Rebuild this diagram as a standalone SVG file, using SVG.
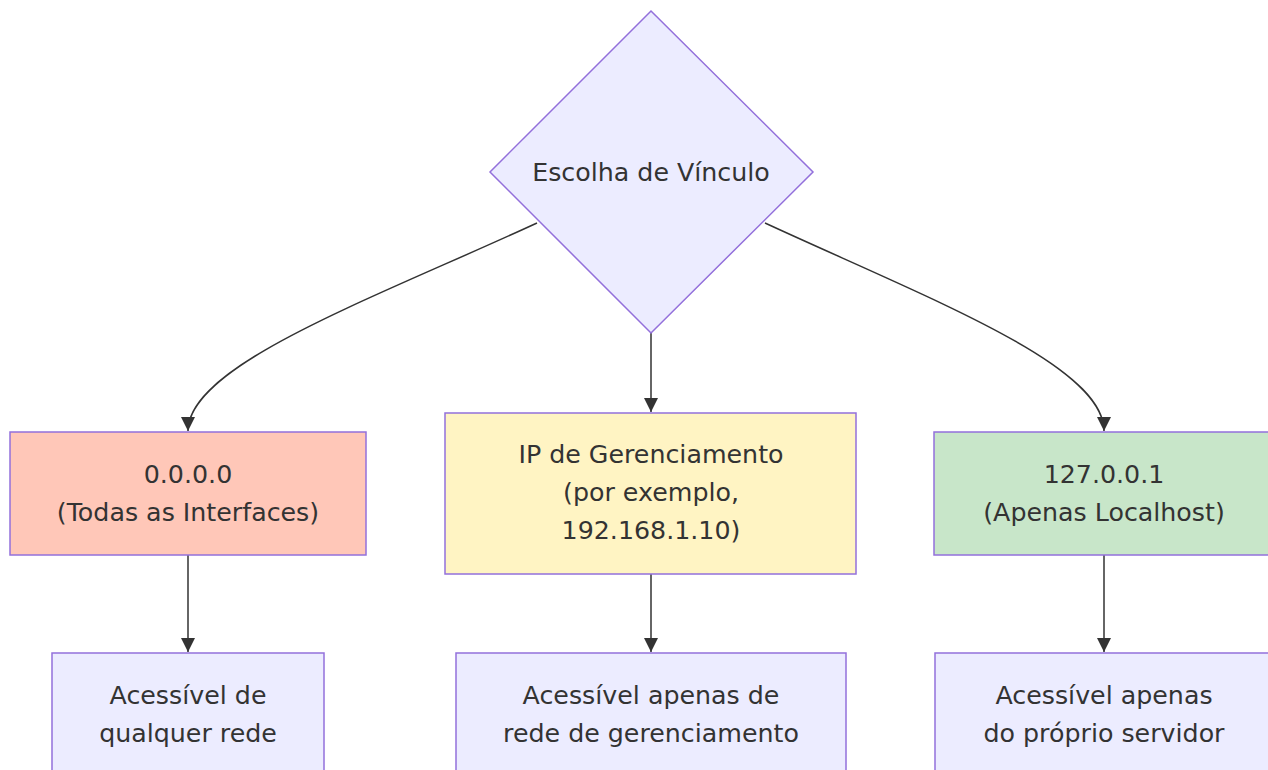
<svg xmlns="http://www.w3.org/2000/svg" width="1268" height="770" viewBox="0 0 1268 770">
<style>
.node{stroke:#9370DB;stroke-width:1.5}
.lbl{font-family:"DejaVu Sans",Verdana,sans-serif;font-size:25.3px;fill:#333;text-anchor:middle}
.edge{fill:none;stroke:#333;stroke-width:1.5}
</style>
<defs>
<marker id="arr" markerUnits="userSpaceOnUse" markerWidth="14" markerHeight="14" refX="12" refY="6" orient="auto" viewBox="0 0 12 12">
<path d="M0,0 L12,6 L0,12 z" fill="#333"/>
</marker>
</defs>
<rect width="1268" height="770" fill="#fff"/>
<g id="connectors">
<path class="edge" d="M537,223 C370,300 188,365 188,431" marker-end="url(#arr)"/>
<path class="edge" d="M651,333 L651,412" marker-end="url(#arr)"/>
<path class="edge" d="M765,223 C932,300 1104,365 1104,431" marker-end="url(#arr)"/>
<path class="edge" d="M188,555 L188,652" marker-end="url(#arr)"/>
<path class="edge" d="M651,574 L651,652" marker-end="url(#arr)"/>
<path class="edge" d="M1104,555 L1104,652" marker-end="url(#arr)"/>
</g>
<g id="decision">
<polygon class="node" points="651,11 813,172 651,333 490,172" fill="#ECECFF"/>
<text class="lbl" x="651" y="181">Escolha de Vínculo</text>
</g>
<g id="all">
<rect class="node" x="10" y="432" width="356" height="123" fill="#FFC7B8"/>
<text class="lbl" x="188" y="483">0.0.0.0</text>
<text class="lbl" x="188" y="521">(Todas as Interfaces)</text>
</g>
<g id="mgmt">
<rect class="node" x="445" y="413" width="411" height="161" fill="#FFF4C3"/>
<text class="lbl" x="651" y="463">IP de Gerenciamento</text>
<text class="lbl" x="651" y="501">(por exemplo,</text>
<text class="lbl" x="651" y="539">192.168.1.10)</text>
</g>
<g id="local">
<rect class="node" x="934" y="432" width="340" height="123" fill="#C8E6C9"/>
<text class="lbl" x="1104" y="483">127.0.0.1</text>
<text class="lbl" x="1104" y="521">(Apenas Localhost)</text>
</g>
<g id="anyNet">
<rect class="node" x="52" y="653" width="272" height="140" fill="#ECECFF"/>
<text class="lbl" x="188" y="704">Acessível de</text>
<text class="lbl" x="188" y="742">qualquer rede</text>
</g>
<g id="mgmtNet">
<rect class="node" x="456" y="653" width="390" height="140" fill="#ECECFF"/>
<text class="lbl" x="651" y="704">Acessível apenas de</text>
<text class="lbl" x="651" y="742">rede de gerenciamento</text>
</g>
<g id="self">
<rect class="node" x="935" y="653" width="338" height="140" fill="#ECECFF"/>
<text class="lbl" x="1104" y="704">Acessível apenas</text>
<text class="lbl" x="1104" y="742">do próprio servidor</text>
</g>
</svg>
